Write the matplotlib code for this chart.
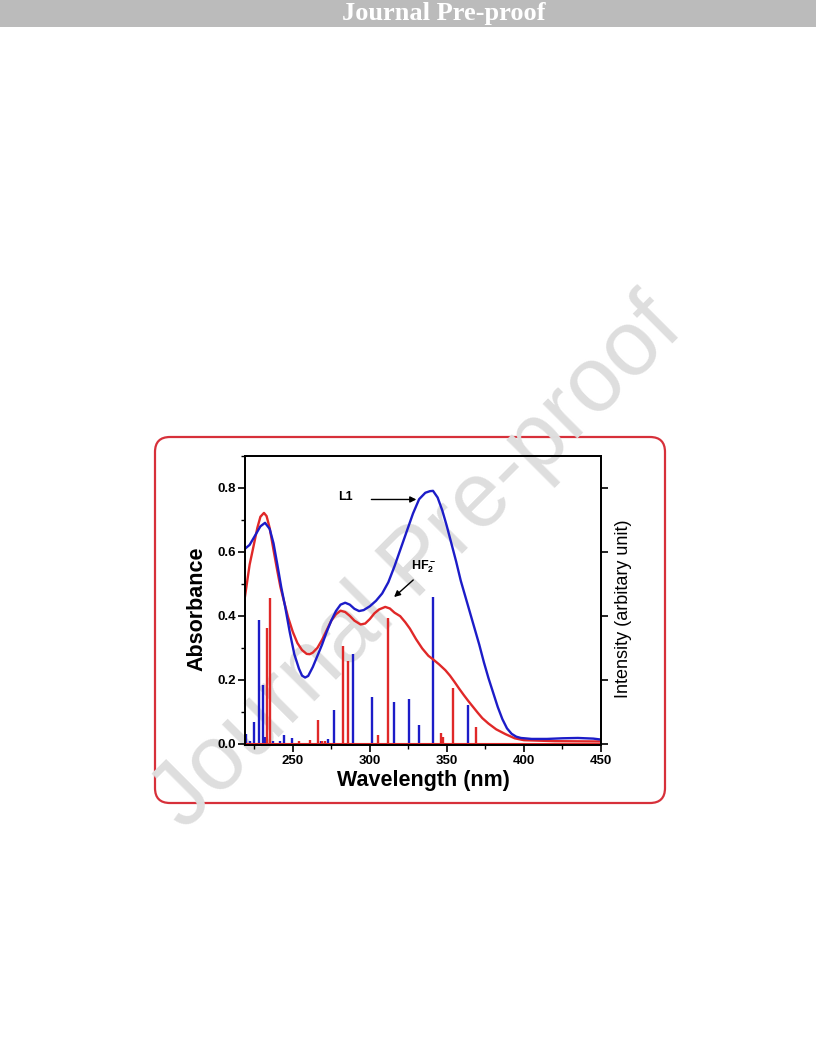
import matplotlib
matplotlib.use('Agg')
import matplotlib.pyplot as plt
from matplotlib.patches import FancyBboxPatch, Rectangle
from matplotlib.ticker import MultipleLocator

plt.rcParams['font.family'] = ['Liberation Sans', 'DejaVu Sans']
plt.rcParams['mathtext.fontset'] = 'custom'
plt.rcParams['mathtext.bf'] = 'Liberation Sans:bold'
plt.rcParams['mathtext.rm'] = 'Liberation Sans'

# ---------------- data ----------------
l1_wl = [219, 222, 226, 229, 232, 235, 237.5, 240, 242.5, 245, 248, 251, 254, 256,
         258, 260, 263, 266, 269, 272, 275, 278, 281, 284, 287, 290, 293, 296, 300,
         304, 308, 312, 316, 320, 324, 328, 332, 336, 339, 341, 344, 347, 350, 353,
         356, 359, 362, 365, 368, 371, 374, 377, 380, 383, 386, 389, 392, 395, 398,
         405, 415, 425, 435, 445, 450]
l1_abs = [0.610, 0.622, 0.655, 0.680, 0.691, 0.672, 0.627, 0.560, 0.490, 0.430, 0.350,
          0.280, 0.235, 0.213, 0.207, 0.212, 0.240, 0.275, 0.310, 0.350, 0.385, 0.415,
          0.435, 0.441, 0.435, 0.422, 0.415, 0.418, 0.430, 0.447, 0.470, 0.505, 0.555,
          0.610, 0.665, 0.720, 0.765, 0.785, 0.790, 0.791, 0.770, 0.730, 0.680, 0.625,
          0.570, 0.510, 0.460, 0.410, 0.360, 0.310, 0.255, 0.205, 0.160, 0.115, 0.077,
          0.048, 0.031, 0.022, 0.018, 0.015, 0.015, 0.017, 0.018, 0.016, 0.013]

hf_wl = [219, 222, 224.5, 227, 229, 231.3, 233, 235, 237.5, 240, 242, 244, 247, 250,
         253, 256, 259, 261, 263, 266, 269, 272, 275, 278, 281, 284, 287, 290, 294,
         297, 300, 303, 306, 310, 313, 316, 319.7, 323, 326, 330, 334, 338, 341, 345,
         349, 352, 355, 358, 361, 364, 367, 370, 373, 377, 382, 388, 394, 400, 420, 450]
hf_abs = [0.461, 0.560, 0.617, 0.675, 0.710, 0.722, 0.712, 0.675, 0.606, 0.540, 0.490,
          0.451, 0.395, 0.350, 0.315, 0.293, 0.281, 0.280, 0.285, 0.300, 0.325, 0.355,
          0.385, 0.405, 0.416, 0.412, 0.400, 0.385, 0.373, 0.376, 0.390, 0.408, 0.420,
          0.428, 0.423, 0.410, 0.399, 0.380, 0.360, 0.327, 0.298, 0.275, 0.264, 0.248,
          0.230, 0.213, 0.193, 0.172, 0.152, 0.133, 0.115, 0.097, 0.080, 0.063, 0.045,
          0.030, 0.017, 0.011, 0.008, 0.007]

l1_stick_wl = [219.4, 222.1, 224.7, 227.8, 230.8, 232.0, 237.1, 241.6, 244.4, 249.6,
               268.4, 272.7, 277.0, 288.9, 301.4, 315.7, 325.6, 332.1, 341.0, 363.6]
l1_stick_int = [0.030, 0.010, 0.067, 0.387, 0.184, 0.020, 0.010, 0.010, 0.028, 0.018,
                0.010, 0.015, 0.106, 0.282, 0.145, 0.130, 0.140, 0.059, 0.459, 0.121]

hf_stick_wl = [233.4, 235.1, 253.9, 261.5, 266.2, 269.0, 271.2, 282.7, 285.9, 305.1,
               311.8, 328.4, 346.5, 347.4, 353.7, 369.0]
hf_stick_int = [0.363, 0.455, 0.007, 0.012, 0.073, 0.010, 0.010, 0.306, 0.259, 0.026,
                0.392, 0.003, 0.033, 0.020, 0.173, 0.052]

x_major = [250, 300, 350, 400, 450]
y_major = [0.0, 0.2, 0.4, 0.6, 0.8]
y_major_labels = ['0.0', '0.2', '0.4', '0.6', '0.8']

BLUE = '#1c1cc8'
RED = '#e02828'

# ---------------- figure ----------------
fig = plt.figure(figsize=(8.16, 10.56), dpi=100)
fig.patch.set_facecolor('white')

# header bar
fig.patches.append(Rectangle((0, 1 - 27 / 1056), 1, 27 / 1056, transform=fig.transFigure,
                             facecolor='#bbbbbb', edgecolor='none', zorder=-3))
fig.text(0.544, 1 - 13.5 / 1056, 'Journal Pre-proof', family='Liberation Serif',
         weight='bold', color='white', size=19, ha='center', va='center')

# red rounded frame
fig.patches.append(FancyBboxPatch((1.55, 2.53), 5.10, 3.66,
                                  boxstyle='round,pad=0,rounding_size=0.15',
                                  transform=fig.dpi_scale_trans, facecolor='white',
                                  edgecolor='#d7303a', lw=1.6, zorder=-2))

# watermark
fig.text(0.512, 0.466, 'Journal Pre-proof', rotation=45, size=66, color='#dedede',
         ha='center', va='center', rotation_mode='anchor', zorder=-1)

ax = fig.add_axes([245 / 816, 1 - 745 / 1056, 356 / 816, 289 / 1056])
ax.set_facecolor('none')

ax.vlines(l1_stick_wl, 0, l1_stick_int, colors=BLUE, lw=1.7)
ax.vlines(hf_stick_wl, 0, hf_stick_int, colors=RED, lw=1.7)
ax.axhline(0, color=RED, lw=1.5)
ax.plot(hf_wl, hf_abs, color=RED, lw=1.7)
ax.plot(l1_wl, l1_abs, color=BLUE, lw=1.7)

ax.set_xlim(219, 450)
ax.set_ylim(-0.004, 0.9)
ax.set_xticks(x_major)
ax.set_xticklabels([str(v) for v in x_major])
ax.xaxis.set_minor_locator(MultipleLocator(25))
ax.set_yticks(y_major)
ax.set_yticklabels(y_major_labels)
ax.yaxis.set_minor_locator(MultipleLocator(0.1))

for sp in ax.spines.values():
    sp.set_linewidth(1.3)

ax.tick_params(axis='both', which='major', direction='out', length=5, width=1.2,
               labelsize=9.5, top=False, right=False)
ax.tick_params(axis='both', which='minor', direction='out', length=3, width=1.0,
               top=False, right=False)
ax.tick_params(axis='y', which='major', pad=1.5)
ax.tick_params(axis='x', which='major', pad=2)
for lab in ax.get_xticklabels() + ax.get_yticklabels():
    lab.set_fontweight('bold')

ax.set_xlabel('Wavelength (nm)', fontsize=15.5, fontweight='bold')
ax.set_ylabel('Absorbance', fontsize=15.5, fontweight='bold')
ax.xaxis.set_label_coords(0.5, -0.085)
ax.yaxis.set_label_coords(-0.105, 0.47)

ax2 = ax.twinx()
ax2.set_ylim(-0.004, 0.9)
ax2.set_yticks(y_major)
ax2.set_yticklabels([])
ax2.tick_params(axis='y', direction='out', length=5, width=1.2)
ax2.set_ylabel('Intensity (arbitary unit)', fontsize=13)
ax2.yaxis.set_label_coords(1.04, 0.47)
for sp in ax2.spines.values():
    sp.set_linewidth(1.3)

# annotations
ax.annotate('', xy=(332.0, 0.764), xytext=(299.2, 0.764),
            arrowprops=dict(arrowstyle='-|>', color='black', lw=1.0, mutation_scale=9))
ax.text(284.1, 0.771, 'L1', ha='center', va='center', fontweight='bold', fontsize=9)
ax.annotate('', xy=(314.4, 0.453), xytext=(329.5, 0.518),
            arrowprops=dict(arrowstyle='-|>', color='black', lw=1.0, mutation_scale=9))
ax.text(334.7, 0.554, r'$\mathbf{HF_2^-}$', ha='center', va='center', fontsize=9)

fig.savefig('out.png', dpi=100, facecolor='white')
